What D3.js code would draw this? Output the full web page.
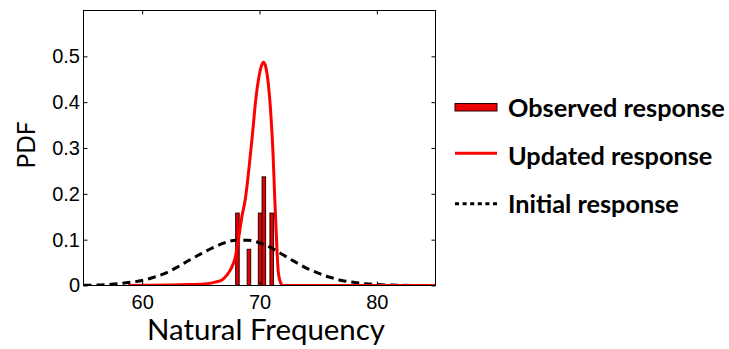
<!DOCTYPE html>
<html>
<head>
<meta charset="utf-8">
<script src="https://cdn.jsdelivr.net/npm/d3@7"></script>
<style>
  html, body { margin: 0; padding: 0; background: #fff; }
  svg { display: block; }
</style>
</head>
<body>
<svg id="chart" width="729" height="349"></svg>
<script>
// Axis ticks
const xTicks = [60, 70, 80];
const yTicks = [0, 0.1, 0.2, 0.3, 0.4, 0.5];

// Observed response (normalised histogram of measured natural frequencies)
const obsFreq = [68.12, 69.1, 70.05, 70.37, 71.04];
const obsPdf  = [0.158, 0.079, 0.158, 0.237, 0.158];

// Updated response PDF
const updFreq = [58.8, 60, 62, 64, 65.5, 66.3, 66.8, 67.2, 67.6, 67.9, 68.2, 68.5, 68.8, 69.1, 69.4, 69.7,
                 69.95, 70.15, 70.35, 70.55, 70.75, 70.95, 71.15, 71.3, 71.45, 71.6, 71.8, 72.0, 75, 80, 85];
const updPdf  = [0, 0.0005, 0.001, 0.002, 0.004, 0.008, 0.012, 0.022, 0.038, 0.058, 0.10, 0.15, 0.19, 0.255, 0.33, 0.41,
                 0.455, 0.478, 0.487, 0.475, 0.44, 0.38, 0.29, 0.19, 0.10, 0.03, 0.006, 0, 0, 0, 0];

// Initial response PDF
const initFreq = [55, 56, 57, 58, 59, 60, 61, 62, 63, 64, 65, 66, 67, 68, 69, 70,
                  71, 72, 73, 74, 75, 76, 77, 78, 79, 80, 81, 82, 83, 84, 85];
const initPdf  = [0.0005, 0.001, 0.002, 0.004, 0.007, 0.011, 0.018, 0.027, 0.040, 0.055, 0.069, 0.082, 0.093, 0.099, 0.099, 0.093,
                  0.082, 0.067, 0.052, 0.038, 0.027, 0.018, 0.011, 0.007, 0.004, 0.002, 0.001, 0.0005, 0.0002, 0.0001, 0];

// Legend entries
const legendLabels = ["Observed response", "Updated response", "Initial response"];

const svg = d3.select("#chart");
const plot = { left: 83.5, right: 435.5, top: 10.5, bottom: 285.5 };

const x = d3.scaleLinear().domain([55, 85]).range([plot.left, plot.right]);
const y = d3.scaleLinear().domain([0, 0.6]).range([plot.bottom, plot.top]);

const barWidth = 0.3; // in frequency units

// clip to plot area
svg.append("defs").append("clipPath").attr("id", "clip")
  .append("rect")
  .attr("x", plot.left).attr("y", plot.top)
  .attr("width", plot.right - plot.left).attr("height", plot.bottom - plot.top);

const g = svg.append("g").attr("clip-path", "url(#clip)");

// bars
g.selectAll("rect.bar")
  .data(obsFreq.map((f, i) => ({ f, p: obsPdf[i] })))
  .join("rect")
  .attr("class", "bar")
  .attr("x", d => x(d.f - barWidth / 2))
  .attr("width", d => x(d.f + barWidth / 2) - x(d.f - barWidth / 2))
  .attr("y", d => y(d.p))
  .attr("height", d => y(0) - y(d.p))
  .attr("fill", "#e80000")
  .attr("stroke", "#2a0000")
  .attr("stroke-width", 1);

const line = d3.line()
  .x(d => x(d[0]))
  .y(d => y(d[1]))
  .curve(d3.curveMonotoneX);

// initial (dashed)
g.append("path")
  .datum(initFreq.map((f, i) => [f, initPdf[i]]))
  .attr("d", line)
  .attr("fill", "none")
  .attr("stroke", "#000")
  .attr("stroke-width", 3)
  .attr("stroke-dasharray", "8,5");

// updated (solid red)
g.append("path")
  .datum(updFreq.map((f, i) => [f, updPdf[i]]))
  .attr("d", line)
  .attr("fill", "none")
  .attr("stroke", "#ff0000")
  .attr("stroke-width", 3)
  .attr("stroke-linejoin", "round");

// axes with inward ticks
const tickFont = "'Liberation Sans', Arial, sans-serif";
const tickLen = 4;

const xAxis = svg.append("g")
  .attr("transform", `translate(0,${plot.bottom})`)
  .call(d3.axisBottom(x).tickValues(xTicks).tickSizeInner(-tickLen).tickSizeOuter(0).tickPadding(9));
const yAxis = svg.append("g")
  .attr("transform", `translate(${plot.left},0)`)
  .call(d3.axisLeft(y).tickValues(yTicks).tickSizeInner(-tickLen).tickSizeOuter(0).tickPadding(3.5)
    .tickFormat(d => d === 0 ? "0" : d.toFixed(1)));
const xTop = svg.append("g")
  .attr("transform", `translate(0,${plot.top})`)
  .call(d3.axisTop(x).tickValues(xTicks).tickSizeInner(-tickLen).tickSizeOuter(0).tickFormat(""));
const yRight = svg.append("g")
  .attr("transform", `translate(${plot.right},0)`)
  .call(d3.axisRight(y).tickValues(yTicks).tickSizeInner(-tickLen).tickSizeOuter(0).tickFormat(""));

[xAxis, yAxis, xTop, yRight].forEach(a => {
  a.select(".domain").remove();
  a.selectAll("line").attr("stroke", "#000").attr("stroke-width", 1);
  a.selectAll("text").attr("font-family", tickFont).attr("font-size", 20).attr("fill", "#000");
});

// frame
svg.append("rect")
  .attr("x", plot.left).attr("y", plot.top)
  .attr("width", plot.right - plot.left).attr("height", plot.bottom - plot.top)
  .attr("fill", "none").attr("stroke", "#000").attr("stroke-width", 1);

// size text so it spans a given width
function fitWidth(sel, width, base) {
  sel.attr("font-size", base);
  const w = sel.node().getComputedTextLength();
  sel.attr("font-size", base * width / w);
}

const labelFont = "Lato, 'Open Sans', sans-serif";

// axis titles
const xTitle = svg.append("text")
  .attr("x", 266).attr("y", 340)
  .attr("text-anchor", "middle")
  .attr("font-family", labelFont)
  .attr("fill", "#000")
  .text("Natural Frequency");
fitWidth(xTitle, 238, 26);

const yTitle = svg.append("text")
  .attr("transform", "translate(35,145) rotate(-90)")
  .attr("text-anchor", "middle")
  .attr("font-family", labelFont)
  .attr("fill", "#000")
  .text("PDF");
fitWidth(yTitle, 47, 26);

// legend
const legendX = 455, swatchW = 42, textX = 508;
const legendBaselines = [116.7, 165, 213.3];
const legend = svg.append("g");

legend.append("rect")
  .attr("x", legendX).attr("y", 103.5)
  .attr("width", swatchW).attr("height", 7.5)
  .attr("fill", "#e80000").attr("stroke", "#2a0000").attr("stroke-width", 1);

legend.append("line")
  .attr("x1", legendX).attr("x2", legendX + swatchW)
  .attr("y1", 153.3).attr("y2", 153.3)
  .attr("stroke", "#ff0000").attr("stroke-width", 3);

legend.append("line")
  .attr("x1", legendX).attr("x2", legendX + swatchW)
  .attr("y1", 203.7).attr("y2", 203.7)
  .attr("stroke", "#000").attr("stroke-width", 3)
  .attr("stroke-dasharray", "4,3.6");

const legendTexts = legend.selectAll("text.leg")
  .data(legendLabels)
  .join("text")
  .attr("class", "leg")
  .attr("x", textX)
  .attr("y", (d, i) => legendBaselines[i])
  .attr("font-family", labelFont)
  .attr("font-weight", "bold")
  .attr("fill", "#000")
  .text(d => d);

// common size from the longest entry
const first = legendTexts.filter((d, i) => i === 0);
first.attr("font-size", 22);
const w0 = first.node().getComputedTextLength();
legendTexts.attr("font-size", 22 * 217 / w0);
</script>
</body>
</html>
